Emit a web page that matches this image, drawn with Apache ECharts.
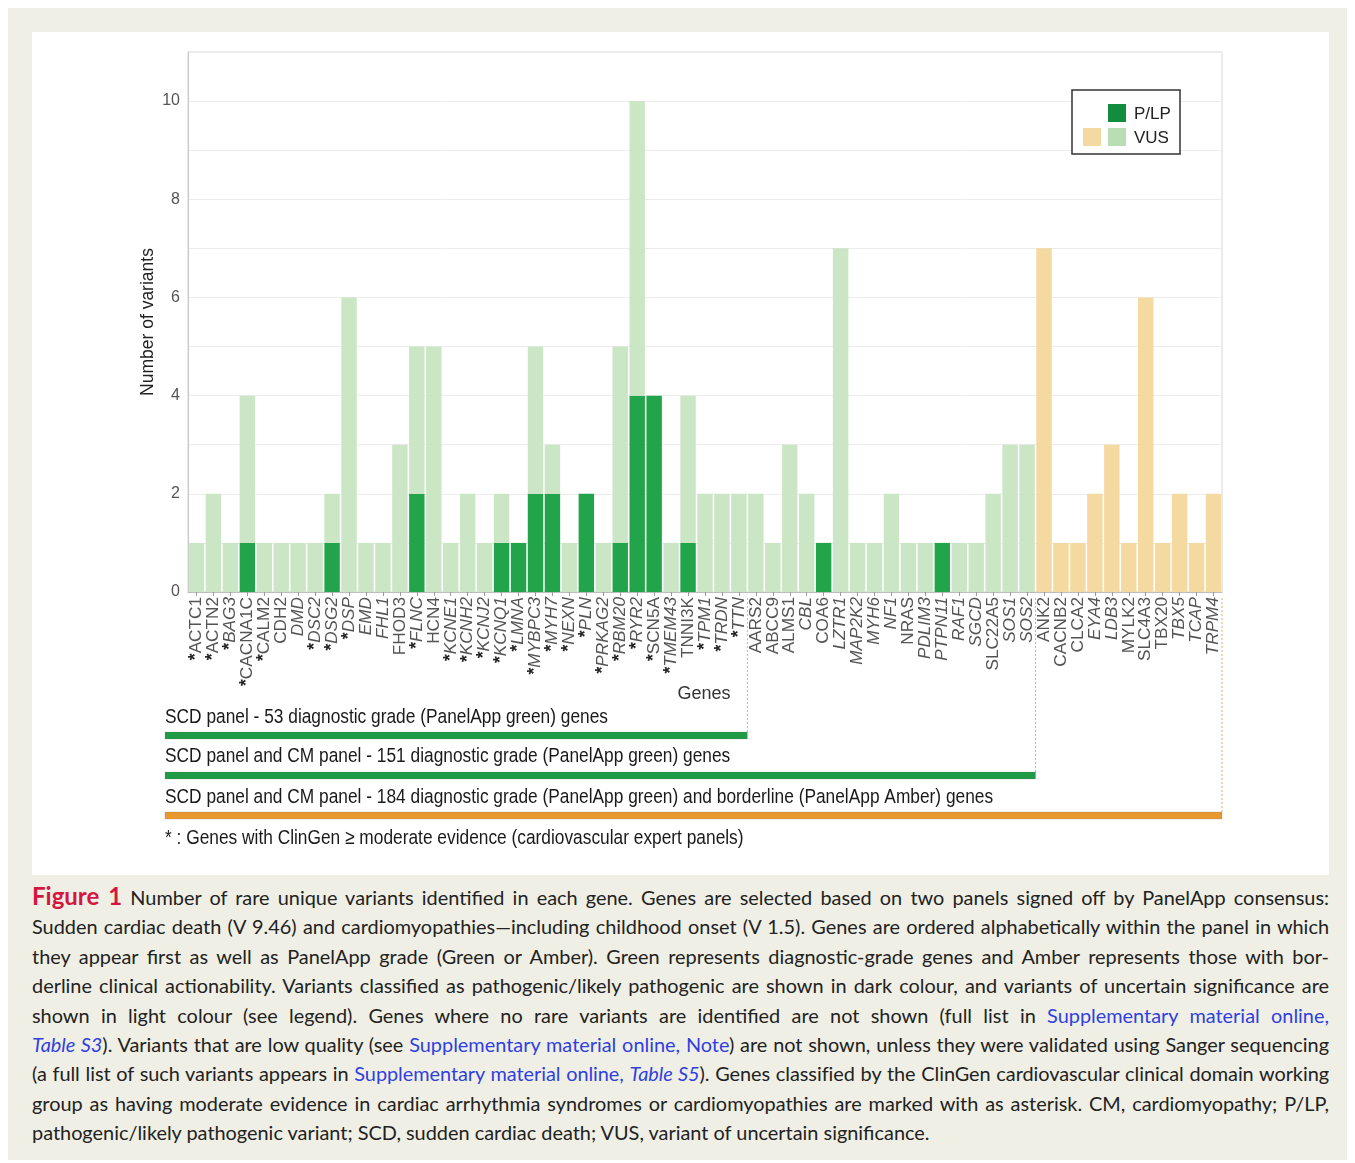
<!DOCTYPE html>
<html>
<head>
<meta charset="utf-8">
<script src="https://cdn.jsdelivr.net/npm/echarts@6/dist/echarts.min.js"></script>
<style>
  html, body { margin: 0; padding: 0; background: #ffffff; }
  #frame { position: absolute; left: 8px; top: 8px; width: 1339px; height: 1152px; background: #efefe5; }
  #chart { position: absolute; left: 32px; top: 32px; width: 1297px; height: 843px; background: #ffffff; }
  #caption { position: absolute; left: 32px; top: 881px; width: 1297px; font-family: Lato, "Open Sans", sans-serif; font-size: 19.9px; color: #222; line-height: 29.4px; }
  #caption .ln { text-align: justify; text-align-last: justify; white-space: nowrap; }
  #caption .last { text-align: left; text-align-last: left; }
  #caption .fig { color: #d3173f; font-weight: bold; font-size: 24px; }
  #caption .lk { color: #2f3fe0; }
</style>
</head>
<body>
<div id="frame"></div>
<div id="chart"></div>
<div id="caption">
  <div class="ln"><span class="fig">Figure 1</span> Number of rare unique variants identified in each gene. Genes are selected based on two panels signed off by PanelApp consensus:</div>
  <div class="ln">Sudden cardiac death (V 9.46) and cardiomyopathies—including childhood onset (V 1.5). Genes are ordered alphabetically within the panel in which</div>
  <div class="ln">they appear first as well as PanelApp grade (Green or Amber). Green represents diagnostic-grade genes and Amber represents those with bor-</div>
  <div class="ln">derline clinical actionability. Variants classified as pathogenic/likely pathogenic are shown in dark colour, and variants of uncertain significance are</div>
  <div class="ln">shown in light colour (see legend). Genes where no rare variants are identified are not shown (full list in <span class="lk">Supplementary material online,</span></div>
  <div class="ln"><span class="lk"><i>Table S3</i></span>). Variants that are low quality (see <span class="lk">Supplementary material online, Note</span>) are not shown, unless they were validated using Sanger sequencing</div>
  <div class="ln" style="letter-spacing:-0.05px">(a full list of such variants appears in <span class="lk">Supplementary material online, <i>Table S5</i></span>). Genes classified by the ClinGen cardiovascular clinical domain working</div>
  <div class="ln">group as having moderate evidence in cardiac arrhythmia syndromes or cardiomyopathies are marked with as asterisk. CM, cardiomyopathy; P/LP,</div>
  <div class="ln last">pathogenic/likely pathogenic variant; SCD, sudden cardiac death; VUS, variant of uncertain significance.</div>
</div>
<script>
// ---- data ----
const genes = [
  'ACTC1','ACTN2','BAG3','CACNA1C','CALM2','CDH2','DMD','DSC2','DSG2','DSP',
  'EMD','FHL1','FHOD3','FLNC','HCN4','KCNE1','KCNH2','KCNJ2','KCNQ1','LMNA',
  'MYBPC3','MYH7','NEXN','PLN','PRKAG2','RBM20','RYR2','SCN5A','TMEM43','TNNI3K',
  'TPM1','TRDN','TTN',
  'AARS2','ABCC9','ALMS1','CBL','COA6','LZTR1','MAP2K2','MYH6','NF1','NRAS',
  'PDLIM3','PTPN11','RAF1','SGCD','SLC22A5','SOS1','SOS2',
  'ANK2','CACNB2','CLCA2','EYA4','LDB3','MYLK2','SLC4A3','TBX20','TBX5','TCAP','TRPM4'
];
// ClinGen >= moderate evidence (asterisk)
const clingen = ['ACTC1','ACTN2','BAG3','CACNA1C','CALM2','DSC2','DSG2','DSP','FLNC','KCNE1','KCNH2','KCNJ2','KCNQ1','LMNA','MYBPC3','MYH7','NEXN','PLN','PRKAG2','RBM20','RYR2','SCN5A','TMEM43','TPM1','TRDN','TTN'];
// panel of each gene: 'SCD' (green), 'CM' (green), 'AMBER' (borderline)
const panel = genes.map((g, i) => i < 33 ? 'SCD' : (i < 50 ? 'CM' : 'AMBER'));
const plp = [
  0,0,0,1,0,0,0,0,1,0,
  0,0,0,2,0,0,0,0,1,1,
  2,2,0,2,0,1,4,4,0,1,
  0,0,0,
  0,0,0,0,1,0,0,0,0,0,
  0,1,0,0,0,0,0,
  0,0,0,0,0,0,0,0,0,0,0
];
const vus = [
  1,2,1,3,1,1,1,1,1,6,
  1,1,3,3,5,1,2,1,1,0,
  3,1,1,0,1,4,6,0,1,3,
  2,2,2,
  2,1,3,2,0,7,1,1,2,1,
  1,0,1,1,2,3,3,
  7,1,1,2,3,1,6,1,2,1,2
];
const yTicks = [0, 2, 4, 6, 8, 10];
const panelTexts = [
  'SCD panel - 53 diagnostic grade (PanelApp green) genes',
  'SCD panel and CM panel - 151 diagnostic grade (PanelApp green) genes',
  'SCD panel and CM panel - 184 diagnostic grade (PanelApp green) and borderline (PanelApp Amber) genes'
];
const footnote = '* : Genes with ClinGen \u2265 moderate evidence (cardiovascular expert panels)';
const italicGenes = ['BAG3','DMD','DSC2','DSG2','DSP','EMD','FHL1','FLNC','KCNE1','KCNH2','KCNJ2','KCNQ1','LMNA','MYBPC3','MYH7','NEXN','PLN','PRKAG2','RBM20','RYR2','TMEM43','TPM1','TRDN','TTN','CBL','LZTR1','MAP2K2','MYH6','NF1','PDLIM3','PTPN11','RAF1','SGCD','SOS1','SOS2','EYA4','LDB3','TBX5','TCAP','TRPM4'];

// ---- colours ----
const C_PLP = '#22a54a';
const C_VUS_G = '#cbe6c5';
const C_VUS_A = '#f4d9a0';
const C_BAR_G = '#1f9a45';
const C_BAR_A = '#e8982c';

const chart = echarts.init(document.getElementById('chart'));
const labelFont = '"Liberation Sans", Arial, sans-serif';
const narrowFont = '"Liberation Sans Narrow", "Arial Narrow", "Liberation Sans", sans-serif';

const option = {
  animation: false,
  grid: { left: 156, right: 107, top: 20, bottom: 283, show: true, borderColor: '#d6d6d6', borderWidth: 1, backgroundColor: 'transparent' },
  xAxis: {
    type: 'category',
    data: genes,
    axisLine: { show: true, lineStyle: { color: '#bdbdbd', width: 1 } },
    axisTick: { show: true, alignWithLabel: true, length: 4, lineStyle: { color: '#9a9a9a' } },
    axisLabel: {
      interval: 0, rotate: 90, margin: 5,
      formatter: function (v) {
        const star = clingen.indexOf(v) >= 0 ? '{s|*}' : '';
        const st = italicGenes.indexOf(v) >= 0 ? 'i' : 'n';
        return star + '{' + st + '|' + v + '}';
      },
      rich: {
        s: { fontFamily: labelFont, fontSize: 17.5, color: '#222', fontWeight: 'bold' },
        i: { fontFamily: labelFont, fontSize: 17.2, color: '#555', fontStyle: 'italic' },
        n: { fontFamily: labelFont, fontSize: 17.2, color: '#555' }
      }
    },
    splitLine: { show: false }
  },
  yAxis: {
    type: 'value', min: 0, max: 11, interval: 1,
    name: 'Number of variants', nameLocation: 'middle', nameGap: 31, nameRotate: 90,
    nameMoveOverlap: false,
    nameTextStyle: { fontFamily: labelFont, fontSize: 17.5, color: '#222' },
    axisLine: { show: true, lineStyle: { color: '#c8c8c8' } },
    axisTick: { show: false },
    axisLabel: {
      margin: 8, fontFamily: labelFont, fontSize: 16, color: '#555',
      formatter: v => yTicks.indexOf(v) >= 0 ? String(v) : ''
    },
    splitLine: { show: true, lineStyle: { color: '#ececec', width: 1 } }
  },
  series: [
    {
      name: 'P/LP', type: 'bar', stack: 'v', barCategoryGap: '9%',
      data: plp,
      itemStyle: { color: C_PLP }
    },
    {
      name: 'VUS', type: 'bar', stack: 'v', barCategoryGap: '9%',
      data: vus,
      itemStyle: { color: p => panel[p.dataIndex] === 'AMBER' ? C_VUS_A : C_VUS_G }
    }
  ]
};
chart.setOption(option);

// ---- annotations positioned from the category axis ----
const c0 = chart.convertToPixel({ xAxisIndex: 0 }, genes[0]);
const c1 = chart.convertToPixel({ xAxisIndex: 0 }, genes[1]);
const band = c1 - c0;
function rightEdge(g) { return chart.convertToPixel({ xAxisIndex: 0 }, g) + band / 2; }
const y0 = chart.convertToPixel({ yAxisIndex: 0 }, 0);
const xStart = 133;
const ends = [rightEdge('TTN'), rightEdge('SOS2'), rightEdge('TRPM4')];
const barColors = [C_BAR_G, C_BAR_G, C_BAR_A];
const dotColors = ['#8fd29e', '#8fd29e', '#f2a27e'];
const textY = [685, 724, 765];
const barY = [700, 740, 780];
const narrowScale = 0.845;

const g = [];
for (let k = 0; k < 3; k++) {
  g.push({ type: 'line', shape: { x1: ends[k], y1: y0 + 6, x2: ends[k], y2: barY[k] + 2 },
           style: { stroke: dotColors[k], lineWidth: 1, lineDash: [2, 2] }, z: 5 });
  g.push({ type: 'rect', shape: { x: xStart, y: barY[k], width: ends[k] - xStart, height: 7 },
           style: { fill: barColors[k], stroke: 'rgba(120,120,120,0.35)', lineWidth: 0.6 }, z: 6 });
  g.push({ type: 'text', x: xStart, y: textY[k], scaleX: narrowScale,
           style: { text: panelTexts[k], fontFamily: narrowFont, fontSize: 20.5, fill: '#1a1a1a', textVerticalAlign: 'middle' }, z: 6 });
}
g.push({ type: 'text', x: xStart, y: 806, scaleX: narrowScale,
         style: { text: footnote, fontFamily: narrowFont, fontSize: 20.5, fill: '#1a1a1a', textVerticalAlign: 'middle' }, z: 6 });
g.push({ type: 'text', x: 672, y: 662,
         style: { text: 'Genes', fontFamily: labelFont, fontSize: 18, fill: '#333', textAlign: 'center', textVerticalAlign: 'middle' }, z: 6 });

// legend
g.push({ type: 'rect', shape: { x: 1040, y: 58, width: 108, height: 64 },
         style: { fill: '#fff', stroke: '#333', lineWidth: 1.5 }, z: 10 });
g.push({ type: 'rect', shape: { x: 1076, y: 72, width: 18, height: 18 }, style: { fill: '#128c3f' }, z: 11 });
g.push({ type: 'rect', shape: { x: 1051, y: 96, width: 18, height: 18 }, style: { fill: C_VUS_A }, z: 11 });
g.push({ type: 'rect', shape: { x: 1076, y: 96, width: 18, height: 18 }, style: { fill: '#b9deb3' }, z: 11 });
g.push({ type: 'text', x: 1102, y: 82, style: { text: 'P/LP', fontFamily: labelFont, fontSize: 17, fill: '#222', textVerticalAlign: 'middle' }, z: 11 });
g.push({ type: 'text', x: 1102, y: 106, style: { text: 'VUS', fontFamily: labelFont, fontSize: 17, fill: '#222', textVerticalAlign: 'middle' }, z: 11 });

chart.setOption({ graphic: g });
</script>
</body>
</html>
